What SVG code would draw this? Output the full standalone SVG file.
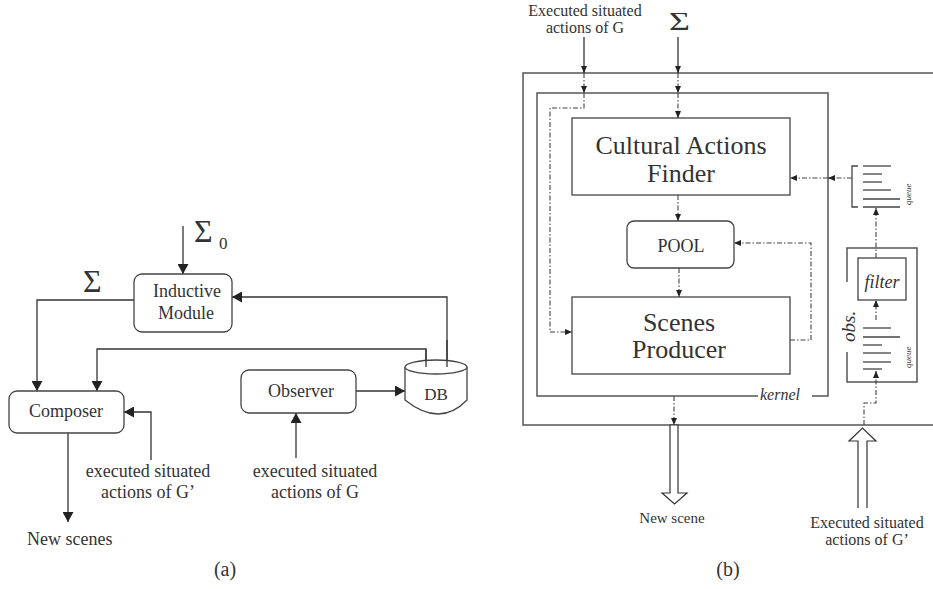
<svg xmlns="http://www.w3.org/2000/svg" width="933" height="589" viewBox="0 0 933 589">
<style>
text{font-family:"Liberation Serif","Times New Roman",serif;fill:#333}
.box{fill:#fff;stroke:#444;stroke-width:1.3}
.ln{fill:none;stroke:#333;stroke-width:1.3}
.dd{fill:none;stroke:#444;stroke-width:1.1;stroke-dasharray:5 2 1.5 2}
.frame{fill:none;stroke:#555;stroke-width:1.5}
.q{fill:none;stroke:#444;stroke-width:1.3}
.it{font-style:italic}
</style>
<defs>
<marker id="ah" markerUnits="userSpaceOnUse" markerWidth="11" markerHeight="11" refX="10" refY="5.5" orient="auto">
<path d="M0,0 L10,5.5 L0,11 z" fill="#222"/>
</marker>
<marker id="as" markerUnits="userSpaceOnUse" markerWidth="7" markerHeight="6" refX="7" refY="3" orient="auto">
<path d="M0,0 L7,3 L0,6 z" fill="#222"/>
</marker>
</defs>

<!-- ===== (a) ===== -->
<g id="connectors-a">
<polyline class="ln" points="183,226 183,274" marker-end="url(#ah)"/>
<polyline class="ln" points="134,300 37,300 37,391" marker-end="url(#ah)"/>
<polyline class="ln" points="447,366 447,297 232,297" marker-end="url(#ah)"/>
<polyline class="ln" points="426,366 426,349 97,349 97,391" marker-end="url(#ah)"/>
<polyline class="ln" points="356,391 405,391" marker-end="url(#ah)"/>
<polyline class="ln" points="296,458 296,413" marker-end="url(#ah)"/>
<polyline class="ln" points="151,460 151,412 124,412" marker-end="url(#ah)"/>
<polyline class="ln" points="68,433 68,522" marker-end="url(#ah)"/>
</g>
<g id="sigma0">
<text x="194" y="242" font-size="32">Σ</text>
<text x="219" y="249" font-size="17">0</text>
</g>
<g id="sigma-a">
<text x="83" y="292" font-size="32">Σ</text>
</g>
<g id="inductive">
<rect class="box" x="134" y="274" width="98" height="58" rx="8"/>
<text x="187" y="297" font-size="18" text-anchor="middle">Inductive</text>
<text x="186" y="319" font-size="18" text-anchor="middle">Module</text>
</g>
<g id="composer">
<rect class="box" x="9" y="391" width="115" height="42" rx="8"/>
<text x="66" y="417" font-size="18" text-anchor="middle">Composer</text>
</g>
<g id="observer">
<rect class="box" x="241" y="370" width="115" height="43" rx="8"/>
<text x="301" y="397" font-size="18" text-anchor="middle">Observer</text>
</g>
<g id="db">
<path class="box" d="M405,367 L405,400 Q440,428 467,400 L467,367"/>
<ellipse class="box" cx="436" cy="367" rx="31" ry="7"/>
<line class="ln" x1="426" y1="349" x2="426" y2="367"/>
<line class="ln" x1="447" y1="340" x2="447" y2="367"/>
<text x="436" y="400" font-size="17" text-anchor="middle">DB</text>
</g>
<g id="label-g">
<text x="315" y="477" font-size="18" text-anchor="middle">executed situated</text>
<text x="315" y="498" font-size="18" text-anchor="middle">actions of  G</text>
</g>
<g id="label-gp">
<text x="148" y="477" font-size="18" text-anchor="middle">executed situated</text>
<text x="148" y="498" font-size="18" text-anchor="middle">actions of  G’</text>
</g>
<g id="new-scenes">
<text x="27" y="545" font-size="18">New scenes</text>
</g>
<text x="225" y="576" font-size="20" text-anchor="middle">(a)</text>

<!-- ===== (b) ===== -->
<g id="outer-frame">
<polyline class="frame" points="933,73 523,73 523,425 933,425"/>
</g>
<g id="kernel">
<polyline class="frame" points="758,396 537,396 537,93 828,93 828,396 812,396"/>
<text x="760" y="400" font-size="16" class="it">kernel</text>
</g>
<g id="cultural">
<rect class="box" x="572" y="118" width="218" height="77"/>
<text x="681" y="154" font-size="26" text-anchor="middle">Cultural Actions</text>
<text x="681" y="182" font-size="26" text-anchor="middle">Finder</text>
</g>
<g id="pool">
<rect class="box" x="627" y="221" width="107" height="47" rx="7"/>
<text x="681" y="252" font-size="18" text-anchor="middle">POOL</text>
</g>
<g id="scenes">
<rect class="box" x="572" y="297" width="218" height="77"/>
<text x="679" y="331" font-size="26" text-anchor="middle">Scenes</text>
<text x="679" y="358" font-size="26" text-anchor="middle">Producer</text>
</g>
<g id="queue-top">
<polyline class="q" points="858,166 852,166 852,207 858,207"/>
<line class="q" x1="863" y1="166" x2="891" y2="166"/>
<line class="q" x1="863" y1="174" x2="882" y2="174"/>
<line class="q" x1="863" y1="182" x2="882" y2="182"/>
<line class="q" x1="863" y1="190" x2="891" y2="190"/>
<line class="q" x1="863" y1="199" x2="900" y2="199"/>
<line class="q" x1="863" y1="207" x2="900" y2="207"/>
<text transform="translate(911,205) rotate(-90)" font-size="9" class="it">queue</text>
</g>
<g id="obs">
<polyline class="frame" points="847,282 847,248 917,248 917,382 847,382 847,352"/>
<text transform="translate(855,342) rotate(-90)" font-size="19" class="it">obs.</text>
<line class="q" x1="863" y1="328" x2="891" y2="328"/>
<line class="q" x1="863" y1="337" x2="900" y2="337"/>
<line class="q" x1="863" y1="345" x2="882" y2="345"/>
<line class="q" x1="863" y1="353" x2="891" y2="353"/>
<line class="q" x1="863" y1="362" x2="891" y2="362"/>
<line class="q" x1="863" y1="369" x2="882" y2="369"/>
<text transform="translate(911,368) rotate(-90)" font-size="9" class="it">queue</text>
</g>
<g id="filter">
<rect class="box" x="858" y="258" width="48" height="42"/>
<text x="882" y="288" font-size="18" class="it" text-anchor="middle">filter</text>
</g>
<g id="connectors-b">
<polyline class="ln" points="584,37 584,73" marker-end="url(#as)"/>
<polyline class="dd" points="584,73 584,93" marker-end="url(#as)"/>
<polyline class="dd" points="584,93 584,108 550,108 550,332 572,332" marker-end="url(#as)"/>
<polyline class="ln" points="678,37 678,73" marker-end="url(#as)"/>
<polyline class="dd" points="678,73 678,93" marker-end="url(#as)"/>
<polyline class="dd" points="678,93 678,118" marker-end="url(#as)"/>
<polyline class="dd" points="678,195 678,221" marker-end="url(#as)"/>
<polyline class="dd" points="679,268 679,297" marker-end="url(#as)"/>
<polyline class="dd" points="790,340 811,340 811,243 734,243" marker-end="url(#as)"/>
<polyline class="dd" points="852,178 828,178" marker-end="url(#as)"/>
<polyline class="dd" points="828,178 790,178" marker-end="url(#as)"/>
<polyline class="dd" points="876,258 876,208" marker-end="url(#as)"/>
<polyline class="dd" points="876,320 876,300" marker-end="url(#as)"/>
<polyline class="dd" points="864,425 864,403 876,403 876,371" marker-end="url(#as)"/>
<polyline class="dd" points="674,396 674,425" marker-end="url(#as)"/>
<polygon points="670,425 670,493 662,493 674.5,504 687,493 678,493 678,425" fill="#fff" stroke="#333" stroke-width="1.2"/>
<polyline points="858,508 858,441 849,441 862.5,428 876,441 867,441 867,508" fill="#fff" stroke="#333" stroke-width="1.2"/>
</g>
<g id="label-b-top">
<text x="585" y="16" font-size="16" text-anchor="middle">Executed situated</text>
<text x="585" y="33" font-size="16" text-anchor="middle">actions of G</text>
<text x="669" y="30" font-size="26" textLength="21" lengthAdjust="spacingAndGlyphs">Σ</text>
</g>
<g id="label-b-bottom">
<text x="672" y="523" font-size="15" text-anchor="middle">New scene</text>
<text x="867" y="528" font-size="16" text-anchor="middle">Executed situated</text>
<text x="867" y="545" font-size="16" text-anchor="middle">actions of G’</text>
</g>
<text x="728" y="576" font-size="20" text-anchor="middle">(b)</text>
</svg>
